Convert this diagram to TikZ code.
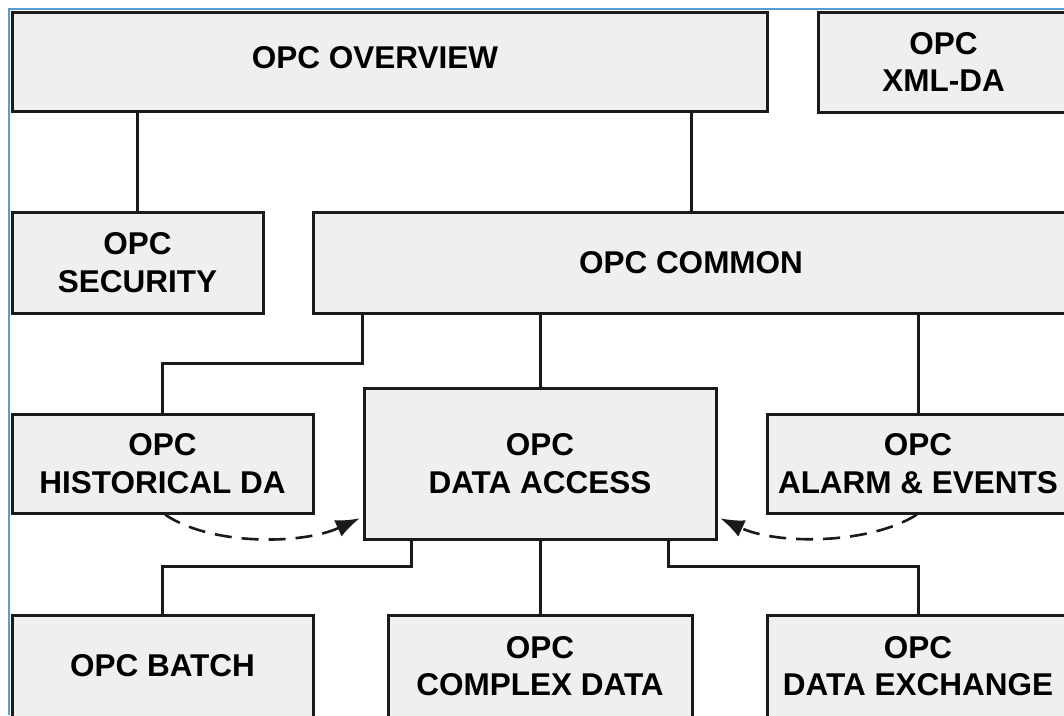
\documentclass[tikz,border=0pt]{standalone}
\usepackage{fontspec}
\setmainfont{Liberation Sans}
\usetikzlibrary{arrows.meta}

\definecolor{boxfill}{HTML}{EFEFEF}
\definecolor{edge}{HTML}{1A1A1A}
\definecolor{framecol}{HTML}{5B9BD5}

\begin{document}
\begin{tikzpicture}[x=1pt, y=-1pt,
  box/.style={draw=edge, fill=boxfill, line width=3pt, inner sep=0pt,
    align=center, font=\bfseries\fontsize{31.5}{37.5}\selectfont},
  lbl/.style={inner sep=0pt, align=center, font=\bfseries\fontsize{31.5}{37.5}\selectfont},
  link/.style={draw=edge, line width=3pt},
  dasharrow/.style={draw=edge, line width=2.6pt, dash pattern=on 17pt off 10pt,
    -{Latex[length=24pt,width=18pt]}, shorten >=3pt}]

\useasboundingbox (0,0) rectangle (1064,715);
\clip (0,0) rectangle (1064,715);
\fill[white] (0,0) rectangle (1064,715);

% top row
\node[box, minimum width=755pt, minimum height=99pt] (ov) at (389.5,61.5) {};
\node[lbl] (ovtext) at (375,58) {OPC OVERVIEW};
\node[box, minimum width=251pt, minimum height=100pt] (xml) at (943.5,62) {OPC\\XML-DA};

% second row
\node[box, minimum width=251pt, minimum height=101pt] (sec) at (137.5,262.5) {OPC\\SECURITY};
\node[box, minimum width=756pt, minimum height=101pt] (com) at (691,262.5) {OPC COMMON};

% third row
\node[box, minimum width=301pt, minimum height=99pt] (hist) at (162.5,463.5) {OPC\\HISTORICAL DA};
\node[box, minimum width=352pt, minimum height=151pt] (da) at (540,463.5) {OPC\\DATA ACCESS};
\node[box, minimum width=302pt, minimum height=99pt] (alarm) at (918,463.5) {OPC\\ALARM \& EVENTS};

% bottom row
\node[box, minimum width=301pt, minimum height=102pt] (batch) at (162.5,666) {OPC BATCH};
\node[box, minimum width=304pt, minimum height=102pt] (cplx) at (540,666) {OPC\\COMPLEX DATA};
\node[box, minimum width=302pt, minimum height=102pt] (dx) at (918,666) {OPC\\DATA EXCHANGE};

% tree connectors
\draw[link] (sec.north) -- (sec.north |- ov.south);
\draw[link] (com.north) -- (com.north |- ov.south);
\draw[link] (com.south -| da.west) -- ++(0,49) -| (hist.north);
\draw[link] (da.north) -- (da.north |- com.south);
\draw[link] (alarm.north) -- (alarm.north |- com.south);
\draw[link] ([xshift=49pt]da.south west) -- ++(0,26) -| (batch.north);
\draw[link] (cplx.north) -- (cplx.north |- da.south);
\draw[link] ([xshift=-49pt]da.south east) -- ++(0,26) -| (dx.north);

% dashed dependencies into data access
\draw[dasharrow] ([xshift=2.5pt]hist.south)
  .. controls +(45,31) and +(-61,28) .. ([yshift=-53.5pt]da.west);
\draw[dasharrow] ([xshift=-1pt]alarm.south)
  .. controls +(-47,30) and +(60,28) .. ([yshift=-53.5pt]da.east);

% window frame
\draw[framecol, line width=2pt] (9,715) -- (9,9) -- (1064,9);
\end{tikzpicture}
\end{document}
